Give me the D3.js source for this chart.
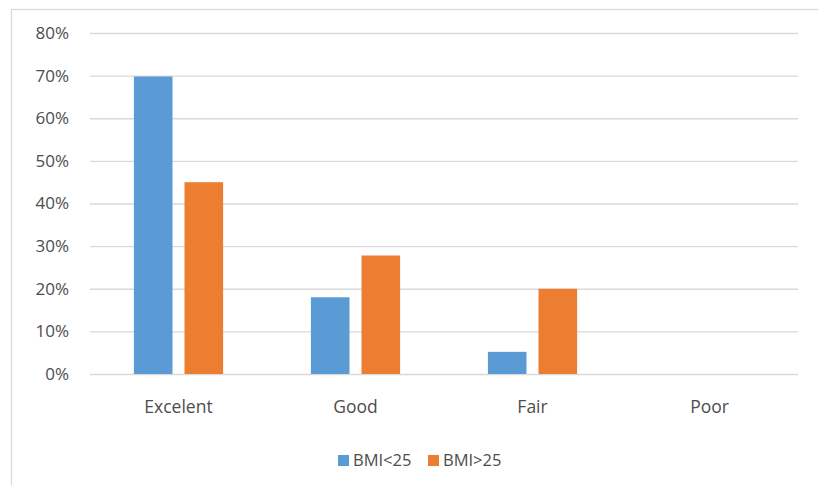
<!DOCTYPE html>
<html>
<head>
<meta charset="utf-8">
<script src="https://cdn.jsdelivr.net/npm/d3@7"></script>
<style>
  html, body { margin: 0; padding: 0; background: #fff; }
  svg { display: block; font-family: "Open Sans", "Noto Sans", sans-serif; }
</style>
</head>
<body>
<svg id="chart" width="818" height="485"></svg>
<script>
// Self-rated health by BMI group (share of respondents)
const categories = ["Excelent", "Good", "Fair", "Poor"];
const seriesNames = ["BMI<25", "BMI>25"];
const bmiUnder25 = [0.698, 0.18, 0.052, 0];
const bmiOver25 = [0.45, 0.278, 0.20, 0];
const yTicks = [0, 0.1, 0.2, 0.3, 0.4, 0.5, 0.6, 0.7, 0.8];
const colors = ["#5B9BD5", "#ED7D31"];
const textColor = "#4d4d4d";

const svg = d3.select("#chart");
const W = 818, H = 485;
const plot = { left: 90, right: 798, top: 33, bottom: 374 };

// Chart area frame
svg.append("rect")
  .attr("x", 11.5).attr("y", 9.5)
  .attr("width", W + 20).attr("height", H + 20)
  .attr("fill", "#fff")
  .attr("stroke", "#d9d9d9").attr("stroke-width", 1.3);

const x = d3.scaleBand().domain(categories).range([plot.left, plot.right]).padding(0);
const y = d3.scaleLinear().domain([0, 0.8]).range([plot.bottom, plot.top]);

// Horizontal gridlines
svg.append("g")
  .attr("transform", `translate(${plot.left},0)`)
  .call(d3.axisLeft(y).tickValues(yTicks).tickSize(-(plot.right - plot.left)).tickFormat(""))
  .call(g => g.select(".domain").remove())
  .call(g => g.selectAll(".tick line").attr("stroke", "#d9d9d9").attr("stroke-width", 1.3));

// Y tick labels
svg.append("g")
  .attr("transform", `translate(${plot.left - 21},0)`)
  .call(d3.axisLeft(y).tickValues(yTicks).tickSize(0).tickFormat(d3.format(".0%")))
  .call(g => g.select(".domain").remove())
  .call(g => g.selectAll("text")
    .attr("x", 0)
    .attr("fill", textColor)
    .attr("font-size", "17px")
    .attr("font-family", "'Open Sans', 'Noto Sans', sans-serif"));

// Bars, grouped inside each category band
const barW = 38.6, gap = 12;
const groupW = barW * 2 + gap;
const sub = d3.scaleOrdinal().domain(seriesNames).range([0, barW + gap]);
const rows = categories.map((c, i) => ({ cat: c, vals: [bmiUnder25[i], bmiOver25[i]] }));

const groups = svg.append("g").selectAll("g")
  .data(rows).join("g")
  .attr("transform", d => `translate(${x(d.cat) + (x.bandwidth() - groupW) / 2},0)`);

groups.selectAll("rect")
  .data(d => d.vals.map((v, j) => ({ v, s: seriesNames[j], j })))
  .join("rect")
  .attr("x", d => sub(d.s))
  .attr("y", d => y(d.v))
  .attr("width", barW)
  .attr("height", d => y(0) - y(d.v))
  .attr("fill", d => colors[d.j]);

// Category labels
svg.append("g")
  .attr("transform", `translate(0,${plot.bottom})`)
  .call(d3.axisBottom(x).tickSize(0))
  .call(g => g.select(".domain").remove())
  .call(g => g.selectAll("text")
    .attr("y", 0)
    .attr("dy", "39px")
    .attr("fill", textColor)
    .attr("font-size", "17.5px")
    .attr("font-family", "'Open Sans', 'Noto Sans', sans-serif"));

// Legend
const legendX = [338, 428];
const legend = svg.append("g").selectAll("g")
  .data(seriesNames).join("g")
  .attr("transform", (d, i) => `translate(${legendX[i]},455)`);
legend.append("rect").attr("width", 11).attr("height", 11).attr("fill", (d, i) => colors[i]);
legend.append("text")
  .attr("x", 15).attr("y", 10.8)
  .attr("fill", textColor)
  .attr("font-size", "16.5px")
  .text(d => d);
</script>
</body>
</html>
